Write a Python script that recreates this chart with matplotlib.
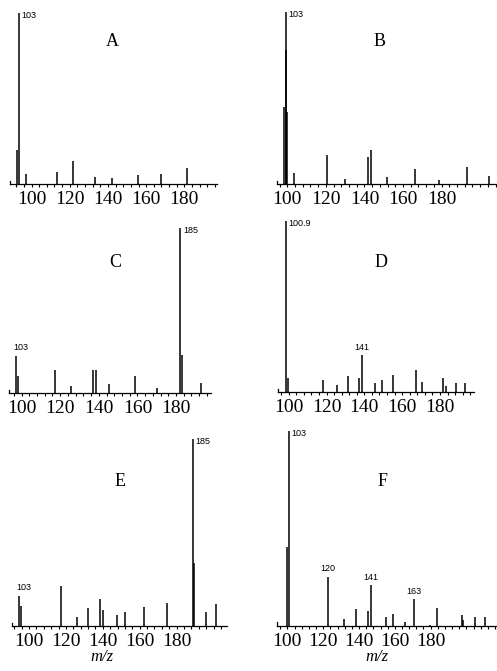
import numpy as np
import matplotlib
matplotlib.use('Agg')
import matplotlib.pyplot as plt
from matplotlib.ticker import MultipleLocator

plt.rcParams['font.family'] = ['Liberation Serif', 'DejaVu Serif']

# peak positions (m/z) and relative intensities (%)
A_mz  = [92.2, 93.4, 97.1, 113.1, 121.5, 133.2, 142.1, 155.5, 167.6, 181.2]
A_int = [20, 100, 6, 7, 13.5, 4, 3.5, 5, 6, 9.5]

B_mz  = [98.5, 99.2, 99.5, 99.9, 103.5, 120.8, 130.0, 142.0, 143.6, 151.6,
         166.2, 178.8, 193.2, 204.4]
B_int = [45, 100, 78, 42, 6.4, 17, 3, 15.5, 20, 4.3, 8.7, 2.5, 10, 4.8]

C_mz  = [97.1, 98.0, 117.3, 125.4, 136.8, 138.4, 145.3, 158.6, 170.0,
         182.1, 183.0, 193.1]
C_int = [22.6, 10.2, 13.8, 4.1, 13.8, 13.8, 5.3, 10.2, 3.2, 100, 23, 6.1]

D_mz  = [98.4, 99.4, 117.9, 125.7, 131.5, 137.1, 138.6, 145.6, 149.5,
         155.0, 167.1, 170.3, 181.7, 183.0, 188.5, 193.2]
D_int = [100, 8.2, 7.2, 4.3, 9.4, 8.2, 21.5, 5.3, 7.2, 10.1, 12.7, 5.8,
         8.4, 3.3, 5.3, 5.3]

E_mz  = [94.6, 95.5, 117.3, 126.2, 132.1, 138.5, 139.9, 147.9, 152.0,
         162.3, 175.0, 188.7, 189.6, 195.9, 201.2]
E_int = [16.1, 10.7, 21.4, 4.6, 9.5, 14.3, 8.6, 5.9, 7.7, 10.3, 12.2,
         100, 33.8, 7.7, 11.6]

F_mz  = [99.6, 100.9, 122.5, 131.6, 138.3, 144.9, 146.5, 154.9, 159.0,
         165.7, 170.9, 179.7, 183.4, 197.4, 198.3, 205.0, 210.4]
F_int = [40.3, 100, 25.2, 3.6, 8.5, 7.7, 21, 4.8, 6.1, 2.2, 13.7, 0.5,
         9.1, 5.6, 3.1, 4.8, 4.8]

# peak annotations: (peak index, text, placement, x shift in pt)
A_lab = [(1, '103', 'side', 0)]
B_lab = [(1, '103', 'side', 0)]
C_lab = [(0, '103', 'top', 3.5), (9, '185', 'side', 0)]
D_lab = [(0, '100.9', 'side', 0), (6, '141', 'top', 0)]
E_lab = [(0, '103', 'top', 3.5), (11, '185', 'side', 0)]
F_lab = [(1, '103', 'side', 0), (2, '120', 'top', 0),
         (6, '141', 'top', 0), (10, '163', 'top', 0)]

tickVals = [100, 120, 140, 160, 180]

W, H = 497, 671

# panel frames in pixels: left, right, baseline, top of tallest peak ; x limits
panels = [
    ('A', A_mz, A_int, A_lab, (10, 217, 184, 13),  (88.7, 197.1), (112, 42)),
    ('B', B_mz, B_int, B_lab, (277, 497, 184, 12), (94.7, 208.7), (380, 42)),
    ('C', C_mz, C_int, C_lab, (9, 211, 393, 228),  (93.5, 198.1), (115, 262)),
    ('D', D_mz, D_int, D_lab, (278, 474, 392, 221), (94.3, 198.0), (381, 262)),
    ('E', E_mz, E_int, E_lab, (12, 227, 626, 439), (90.8, 207.3), (120, 482)),
    ('F', F_mz, F_int, F_lab, (277, 496, 626, 431), (94.2, 216.5), (383, 482)),
]

fig = plt.figure(figsize=(W / 100, H / 100), dpi=100)

for name, mz, inten, labs, box, xlim, letterPos in panels:

    l, r, b, t = box
    ax = fig.add_axes([l / W, 1 - b / H, (r - l) / W, (b - t) / H])

    ax.vlines(mz, 0, inten, color='k', lw=1.1)

    ax.set_xlim(*xlim)
    ax.set_ylim(0, 100)

    for s in ['top', 'right']:
        ax.spines[s].set_visible(False)
    ax.spines['left'].set_bounds(0, 1.8)
    ax.spines['left'].set_linewidth(0.9)
    ax.spines['bottom'].set_linewidth(0.9)
    ax.set_yticks([])

    ax.set_xticks(tickVals)
    ax.xaxis.set_minor_locator(MultipleLocator(4))
    ax.tick_params(axis='x', which='both', direction='out', length=2,
                   width=0.8, pad=3, labelsize=14)
    ax.patch.set_alpha(0)

    for i, txt, place, dx in labs:
        if place == 'side':
            ax.annotate(txt, xy=(mz[i], inten[i]), xytext=(2 + dx, -1.5),
                        textcoords='offset points', ha='left', va='center',
                        fontsize=6.5, family=['Liberation Sans'],
                        annotation_clip=False)
        else:
            ax.annotate(txt, xy=(mz[i], inten[i]), xytext=(dx, 2.5),
                        textcoords='offset points', ha='center', va='bottom',
                        fontsize=6.5, family=['Liberation Sans'],
                        annotation_clip=False)

    fig.text(letterPos[0] / W, 1 - letterPos[1] / H, name,
             ha='center', va='center', fontsize=13)

fig.text(102 / W, 1 - 657 / H, 'm/z', style='italic',
         ha='center', va='center', fontsize=12)
fig.text(377 / W, 1 - 657 / H, 'm/z', style='italic',
         ha='center', va='center', fontsize=12)

fig.savefig('out.png', dpi=100)
